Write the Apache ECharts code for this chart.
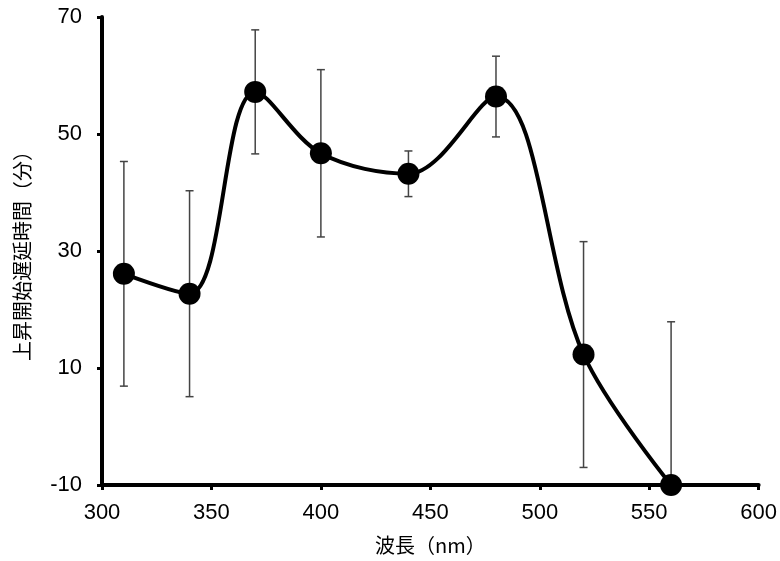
<!DOCTYPE html>
<html lang="ja">
<head>
    <meta charset="UTF-8">
    <title>波長と上昇開始遅延時間</title>
    <script src="https://cdn.jsdelivr.net/npm/echarts@6/dist/echarts.min.js"></script>
</head>
<body style="margin:0">
    <div id="chart" style="width: 780px; height: 561px"></div>
    <script type="text/javascript">
        // 波長 (nm)
        var wavelengths = [310, 340, 370, 400, 440, 480, 520, 560];
        // 平均値 (分)
        var meanValues = [26.1, 22.7, 57.2, 46.7, 43.2, 56.4, 12.3, -10];
        // 誤差 (±)
        var errValues = [19.2, 17.6, 10.6, 14.3, 3.9, 6.9, 19.3, 27.9];
        var xTicks = [300, 350, 400, 450, 500, 550, 600];
        var yTicks = [-10, 10, 30, 50, 70];

        var lineData = [];
        var errData = [];
        for (var i = 0; i < wavelengths.length; i++) {
            lineData.push([wavelengths[i], meanValues[i]]);
            errData.push([wavelengths[i], meanValues[i] - errValues[i], meanValues[i] + errValues[i]]);
        }

        var numFont = 'Liberation Sans, Arial, sans-serif';
        var jpFont = 'Noto Sans CJK JP, sans-serif';

        var option = {
            animation: false,
            grid: {
                left: 102,
                right: 19,
                top: 17,
                bottom: 76
            },
            xAxis: {
                type: 'value',
                min: xTicks[0],
                max: xTicks[xTicks.length - 1],
                interval: 50,
                name: '波長（nm）',
                nameLocation: 'middle',
                nameGap: 50,
                nameTextStyle: { fontFamily: jpFont, fontSize: 20, color: '#000' },
                axisLine: { show: true, onZero: false, lineStyle: { color: '#000', width: 4 } },
                axisTick: { show: true, inside: false, length: 5, lineStyle: { color: '#000', width: 3 } },
                axisLabel: { fontFamily: numFont, fontSize: 22, color: '#000', margin: 17 },
                splitLine: { show: false }
            },
            yAxis: {
                type: 'value',
                min: yTicks[0],
                max: yTicks[yTicks.length - 1],
                interval: 20,
                name: '上昇開始遅延時間（分）',
                nameLocation: 'middle',
                nameGap: 70,
                nameRotate: 90,
                nameTextStyle: { fontFamily: jpFont, fontSize: 20, color: '#000' },
                axisLine: { show: true, onZero: false, lineStyle: { color: '#000', width: 4 } },
                axisTick: { show: true, inside: false, length: 5, lineStyle: { color: '#000', width: 3 } },
                axisLabel: { fontFamily: numFont, fontSize: 22, color: '#000', margin: 20 },
                splitLine: { show: false }
            },
            series: [
                {
                    type: 'custom',
                    clip: true,
                    z: 1,
                    data: errData,
                    renderItem: function (params, api) {
                        var x = api.value(0);
                        var lo = api.coord([x, api.value(1)]);
                        var hi = api.coord([x, api.value(2)]);
                        var cap = 4;
                        var style = { stroke: '#444', lineWidth: 1.5 };
                        return {
                            type: 'group',
                            children: [
                                { type: 'line', shape: { x1: lo[0], y1: lo[1], x2: hi[0], y2: hi[1] }, style: style },
                                { type: 'line', shape: { x1: hi[0] - cap, y1: hi[1], x2: hi[0] + cap, y2: hi[1] }, style: style },
                                { type: 'line', shape: { x1: lo[0] - cap, y1: lo[1], x2: lo[0] + cap, y2: lo[1] }, style: style }
                            ]
                        };
                    }
                },
                {
                    type: 'line',
                    z: 3,
                    data: lineData,
                    smooth: 0.35,
                    clip: false,
                    symbol: 'circle',
                    symbolSize: 22,
                    lineStyle: { color: '#000', width: 4 },
                    itemStyle: { color: '#000' }
                }
            ]
        };

        var myChart = echarts.init(document.getElementById('chart'));
        myChart.setOption(option);
    </script>
</body>
</html>
